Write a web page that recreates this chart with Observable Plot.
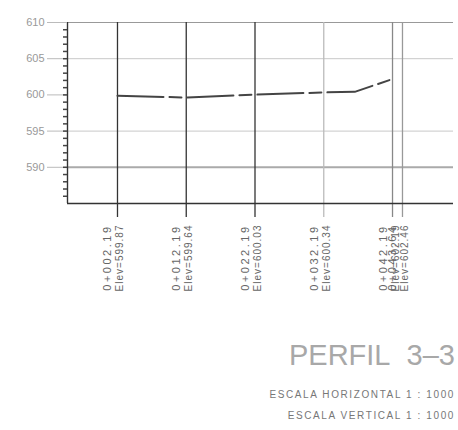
<!DOCTYPE html>
<html><head><meta charset="utf-8">
<script src="https://cdn.jsdelivr.net/npm/d3@7"></script>
<script src="https://cdn.jsdelivr.net/npm/@observablehq/plot@0.6"></script>
<style>
body{margin:0;background:#fff;width:458px;height:430px;overflow:hidden;font-family:"Liberation Sans",sans-serif;}
#title{position:absolute;left:0;width:455px;top:341px;line-height:1;text-align:right;font-size:29px;color:#a8a8a8;font-weight:normal;letter-spacing:0px;font-family:"Liberation Sans",sans-serif;}
.esc{position:absolute;left:0;width:455px;text-align:right;font-size:10px;color:#777;letter-spacing:1.6px;}
</style></head><body>
<div id="chart"></div>
<div id="title">PERFIL&nbsp;&nbsp;3–3</div>
<div class="esc" style="top:389px">ESCALA HORIZONTAL 1 : 1000</div>
<div class="esc" style="top:410px">ESCALA VERTICAL 1 : 1000</div>
<script>
const stations = [2.19, 12.19, 22.19, 32.19, 42.19, 43.64];
const stationLabels = ["0+002.19", "0+012.19", "0+022.19", "0+032.19", "0+042.19", "0+043.64"];
const elevLabels = ["Elev=599.87", "Elev=599.64", "Elev=600.03", "Elev=600.34", "Elev=602.19", "Elev=602.46"];
const stationTones = ["#333", "#333", "#333", "#bbb", "#888", "#999"];
const profileStation = [2.19, 12.19, 22.19, 32.19, 36.7, 42.19];
const profileElev = [599.87, 599.64, 600.03, 600.34, 600.42, 602.19];
const yMajor = [590, 595, 600, 605, 610];
const yMinor = d3.range(586, 610);
const gridLight = [605, 595];
const gridHeavy = [590];

const profile = profileStation.map((s, i) => ({s, e: profileElev[i]}));
const st = stations.map((s, i) => ({s, lab: stationLabels[i], elev: elevLabels[i], tone: stationTones[i]}));

const chart = Plot.plot({
  width: 458, height: 300,
  marginLeft: 67, marginRight: 5, marginTop: 22, marginBottom: 97,
  x: {domain: [-5.08, 51.06], axis: null, label: null},
  y: {domain: [585, 610], axis: null, label: null},
  style: {fontFamily: "Liberation Sans, sans-serif", background: "#fff"},
  marks: [
    Plot.ruleY(gridLight, {stroke: "#c8c8c8", strokeWidth: 1}),
    Plot.ruleY(gridHeavy, {stroke: "#aaa", strokeWidth: 2}),
    Plot.ruleY([610], {stroke: "#999", strokeWidth: 1.2}),
    Plot.ruleX(st, {x: "s", y1: 610, y2: 585, stroke: "tone", strokeWidth: 1.3, insetBottom: -14}),
    Plot.ruleY([585], {stroke: "#333", strokeWidth: 1.4}),
    Plot.ruleX([-5.08], {stroke: "#333", strokeWidth: 1.4}),
    Plot.axisY({ticks: yMajor, tickSize: 20, tickPadding: 3, stroke: "#bbb", fill: "#999", fontSize: 11, label: null, tickFormat: d => d}),
    Plot.axisY({ticks: yMinor, tickSize: 4, tickPadding: 0, stroke: "#444", strokeWidth: 1.5, label: null, tickFormat: () => ""}),
    Plot.line(profile, {x: "s", y: "e", stroke: "#444", strokeWidth: 2, strokeDasharray: "46,6,12,6"}),
    Plot.text(st, {x: "s", text: "lab", frameAnchor: "bottom", dy: 21, dx: -6, rotate: -90, textAnchor: "end", fill: "#666", fontSize: 11}),
    Plot.text(st, {x: "s", text: "elev", frameAnchor: "bottom", dy: 21, dx: 6, rotate: -90, textAnchor: "end", fill: "#666", fontSize: 10})
  ]
});
chart.querySelectorAll("text").forEach(t => {
  if (/^0\+/.test(t.textContent)) t.style.letterSpacing = "2.5px";
  if (/^Elev/.test(t.textContent)) t.style.letterSpacing = "1px";
});
document.getElementById("chart").appendChild(chart);
</script>
</body></html>
